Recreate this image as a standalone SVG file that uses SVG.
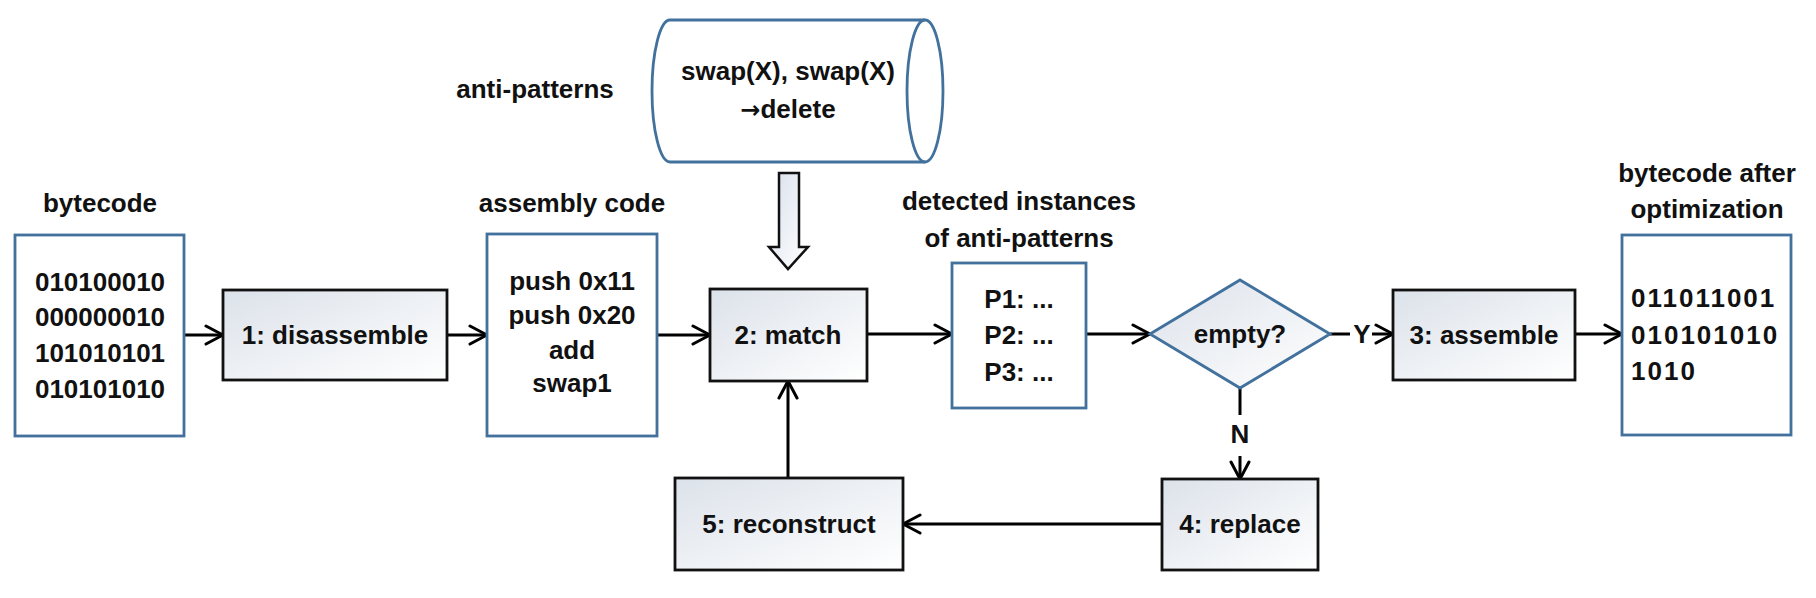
<svg xmlns="http://www.w3.org/2000/svg" width="1816" height="598" viewBox="0 0 1816 598">
<defs>
<style>
.t{font-family:"Liberation Sans",Arial,sans-serif;font-weight:bold;font-size:26px;fill:#111;text-anchor:middle}
.l{text-anchor:start}
.proc{fill:url(#pg);stroke:#111;stroke-width:2.8}
.data{fill:#fff;stroke:#41719C;stroke-width:2.8}
.con{fill:none;stroke:#000;stroke-width:3}
</style>
<linearGradient id="pg" x1="0" y1="0" x2="1" y2="1">
<stop offset="0" stop-color="#DCE2EA"/>
<stop offset="1" stop-color="#FFFFFF"/>
</linearGradient>
<linearGradient id="bg" x1="0" y1="0" x2="1" y2="1">
<stop offset="0" stop-color="#D9E0EC"/>
<stop offset="1" stop-color="#FFFFFF"/>
</linearGradient>
<marker id="arr" viewBox="0 0 22 22" markerWidth="22" markerHeight="22" refX="20" refY="11" orient="auto" markerUnits="userSpaceOnUse">
<path d="M3,2 L20,11 L3,20" fill="none" stroke="#000" stroke-width="3" stroke-linejoin="round" stroke-linecap="round"/>
</marker>
</defs>
<rect width="1816" height="598" fill="#fff"/>

<g id="connectors">
<path class="con" d="M184,335 H223" marker-end="url(#arr)"/>
<path class="con" d="M447,335 H487" marker-end="url(#arr)"/>
<path class="con" d="M657,335 H710" marker-end="url(#arr)"/>
<path class="con" d="M867,334 H952" marker-end="url(#arr)"/>
<path class="con" d="M1086,334 H1150" marker-end="url(#arr)"/>
<path class="con" d="M1330,334 H1350"/>
<text class="t" x="1362" y="343">Y</text>
<path class="con" d="M1372,334 H1393" marker-end="url(#arr)"/>
<path class="con" d="M1575,334 H1622" marker-end="url(#arr)"/>
<path class="con" d="M1240,388 V415"/>
<text class="t" x="1240" y="443">N</text>
<path class="con" d="M1240,456 V479" marker-end="url(#arr)"/>
<path class="con" d="M1162,524 H903" marker-end="url(#arr)"/>
<path class="con" d="M788,478 V381" marker-end="url(#arr)"/>
<polygon points="779,173 799,173 799,247 808,247 788,269 769,247 779,247" fill="url(#bg)" stroke="#111" stroke-width="2.5"/>
</g>

<g id="bytecode">
<text class="t" x="100" y="212">bytecode</text>
<rect class="data" x="15" y="235" width="169" height="201"/>
<text class="t" x="100" y="291">010100010</text>
<text class="t" x="100" y="326">000000010</text>
<text class="t" x="100" y="362">101010101</text>
<text class="t" x="100" y="398">010101010</text>
</g>

<g id="disassemble">
<rect class="proc" x="223" y="290" width="224" height="90"/>
<text class="t" x="335" y="344">1: disassemble</text>
</g>

<g id="assembly">
<text class="t" x="572" y="212">assembly code</text>
<rect class="data" x="487" y="234" width="170" height="202"/>
<text class="t" x="572" y="290">push 0x11</text>
<text class="t" x="572" y="324">push 0x20</text>
<text class="t" x="572" y="359">add</text>
<text class="t" x="572" y="392">swap1</text>
</g>

<g id="antipatterns">
<text class="t" x="535" y="98">anti-patterns</text>
<path d="M670,20 L925,20 A18,71 0 0,1 925,162 L670,162 A18,71 0 0,1 670,20 Z" fill="#fff" stroke="#41719C" stroke-width="2.8"/>
<path d="M925,20 A18,71 0 0,0 925,162" fill="none" stroke="#41719C" stroke-width="2.8"/>
<text class="t" x="788" y="80">swap(X), swap(X)</text>
<text class="t" x="788" y="118"><tspan font-family="'DejaVu Sans',sans-serif" font-size="24">→</tspan>delete</text>
</g>

<g id="match">
<rect class="proc" x="710" y="289" width="157" height="92"/>
<text class="t" x="788" y="344">2: match</text>
</g>

<g id="detected">
<text class="t" x="1019" y="210">detected instances</text>
<text class="t" x="1019" y="247">of anti-patterns</text>
<rect class="data" x="952" y="263" width="134" height="145"/>
<text class="t" x="1019" y="308">P1: ...</text>
<text class="t" x="1019" y="344">P2: ...</text>
<text class="t" x="1019" y="381">P3: ...</text>
</g>

<g id="empty">
<polygon points="1150,334 1240,280 1330,334 1240,388" fill="url(#pg)" stroke="#41719C" stroke-width="2.8"/>
<text class="t" x="1240" y="343">empty?</text>
</g>

<g id="assemble">
<rect class="proc" x="1393" y="290" width="182" height="90"/>
<text class="t" x="1484" y="344">3: assemble</text>
</g>

<g id="output">
<text class="t" x="1707" y="182">bytecode after</text>
<text class="t" x="1707" y="218">optimization</text>
<rect class="data" x="1622" y="235" width="169" height="200"/>
<text class="t l" x="1631" y="307" letter-spacing="2">011011001</text>
<text class="t l" x="1631" y="344" letter-spacing="2">010101010</text>
<text class="t l" x="1631" y="380" letter-spacing="2">1010</text>
</g>

<g id="replace">
<rect class="proc" x="1162" y="479" width="156" height="91"/>
<text class="t" x="1240" y="533">4: replace</text>
</g>

<g id="reconstruct">
<rect class="proc" x="675" y="478" width="228" height="92"/>
<text class="t" x="789" y="533">5: reconstruct</text>
</g>
</svg>
